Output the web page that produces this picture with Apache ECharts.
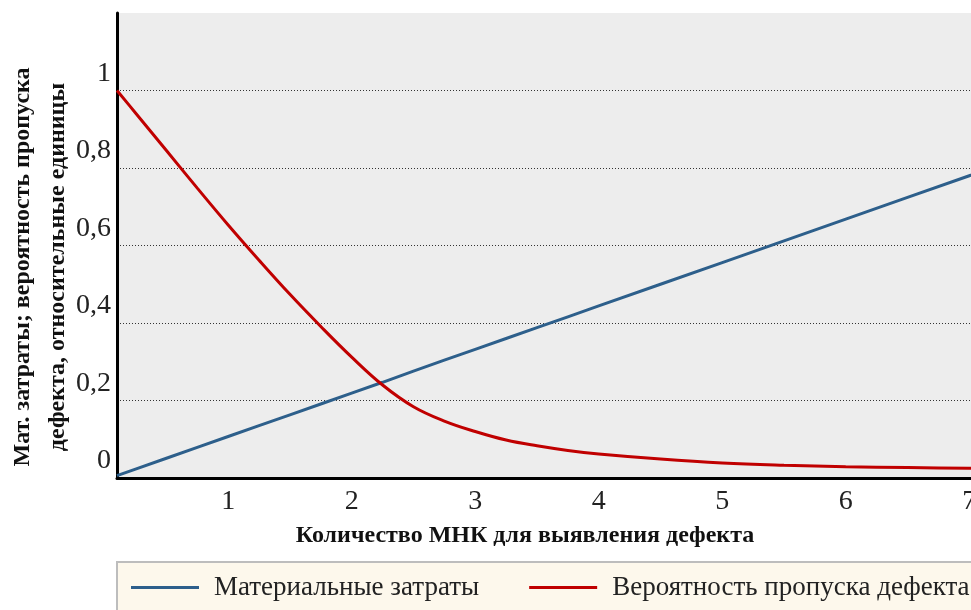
<!DOCTYPE html>
<html><head><meta charset="utf-8">
<script src="https://cdn.jsdelivr.net/npm/echarts@6/dist/echarts.min.js"></script>
<style>html,body{margin:0;padding:0;background:#fff}#c{width:971px;height:610px}</style>
</head><body><div id="c"></div>
<script>
const xValues   = [0.1, 0.25, 0.5, 0.75, 1, 1.25, 1.5, 1.75, 2, 2.25, 2.5, 2.75, 3, 3.25, 3.5, 3.75, 4, 4.5, 5, 5.5, 6, 6.5, 7, 7.2];
const costs     = [0.006, 0.023, 0.051, 0.079, 0.107, 0.135, 0.163, 0.191, 0.219, 0.247, 0.276, 0.304, 0.332, 0.360, 0.388, 0.416, 0.444, 0.500, 0.556, 0.612, 0.668, 0.724, 0.780, 0.802];
const missProb  = [1.0, 0.942, 0.845, 0.748, 0.653, 0.562, 0.474, 0.391, 0.312, 0.240, 0.184, 0.147, 0.120, 0.098, 0.083, 0.071, 0.062, 0.049, 0.039, 0.033, 0.029, 0.027, 0.025, 0.024];
const xTickLabels = [1, 2, 3, 4, 5, 6, 7];
const yTickValues = [0, 0.2, 0.4, 0.6, 0.8, 1];
const seriesNames = ['Материальные затраты', 'Вероятность пропуска дефекта'];
const xTitle = 'Количество МНК для выявления дефекта';
const yTitle = 'Мат. затраты; вероятность пропуска\nдефекта, относительные единицы';

const FONT = '"Liberation Serif", "Times New Roman", serif';
const chart = echarts.init(document.getElementById('c'), null, {renderer: 'canvas'});
const pairs = ys => xValues.map((x, i) => [x, ys[i]]);

chart.setOption({
  animation: false,
  backgroundColor: '#ffffff',
  grid: {
    left: 117, top: 13, width: 877, height: 465,
    outerBoundsMode: 'none', containLabel: false,
    show: true, backgroundColor: '#ededed', borderWidth: 0
  },
  xAxis: {
    type: 'value', min: 0.1, max: 7.2,
    name: xTitle, nameLocation: 'middle', nameGap: 46, nameMoveOverlap: false,
    nameTextStyle: {fontFamily: FONT, fontSize: 24, fontWeight: 'bold', color: '#111', padding: [0, 61, 0, 0]},
    axisLine: {show: true, onZero: false, lineStyle: {color: '#000', width: 3}},
    axisTick: {show: false},
    splitLine: {show: false},
    axisLabel: {
      customValues: xTickLabels, margin: 10,
      fontFamily: FONT, fontSize: 28, color: '#222',
      formatter: v => String(v)
    }
  },
  yAxis: {
    type: 'value', min: 0, max: 1.2, interval: 0.2,
    name: yTitle, nameLocation: 'middle', nameGap: 42, nameRotate: 90, nameMoveOverlap: false,
    nameTextStyle: {fontFamily: FONT, fontSize: 24, fontWeight: 'bold', color: '#111', lineHeight: 35, padding: [0, 43, 0, 0]},
    axisLine: {show: true, lineStyle: {color: '#000', width: 3}},
    axisTick: {show: false},
    splitLine: {show: true, showMaxLine: false, showMinLine: false, lineStyle: {color: '#333', width: 1, type: [1, 2]}},
    axisLabel: {
      margin: 6, verticalAlign: 'bottom', padding: [0, 0, 3, 0],
      fontFamily: FONT, fontSize: 28, color: '#222',
      formatter: v => {
        const r = Math.round(v * 10) / 10;
        return yTickValues.some(t => Math.abs(t - r) < 1e-9) ? String(r).replace('.', ',') : '';
      }
    }
  },
  legend: {
    left: 117, top: 562, width: 1000,
    orient: 'horizontal',
    icon: 'rect', itemWidth: 68, itemHeight: 3, itemGap: 50,
    padding: [12, 14, 30, 14],
    backgroundColor: '#fdf8ec', borderColor: '#bdbdbd', borderWidth: 2,
    textStyle: {fontFamily: FONT, fontSize: 27, color: '#222', padding: [0, 0, 0, 10]},
    data: seriesNames
  },
  series: [
    {
      name: seriesNames[0], type: 'line', data: pairs(costs),
      symbol: 'none', smooth: false,
      lineStyle: {color: '#2d5f8b', width: 3}, itemStyle: {color: '#2d5f8b'}
    },
    {
      name: seriesNames[1], type: 'line', data: pairs(missProb),
      symbol: 'none', smooth: 0.4,
      lineStyle: {color: '#c00000', width: 3}, itemStyle: {color: '#c00000'}
    }
  ]
});
</script>
</body></html>
